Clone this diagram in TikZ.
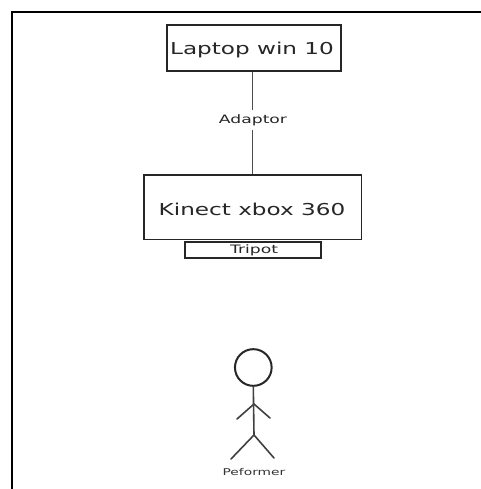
\documentclass[tikz,border=0pt]{standalone}
\usepackage{fontspec}
\setmainfont{DejaVu Sans}
\tikzset{
  x=0.75pt,y=-0.75pt,
  box/.style={draw=black!85,line width=1.35pt,inner sep=0pt,anchor=north west},
  big/.style={inner sep=0pt,text=black!85,font=\fontsize{12.3}{14}\selectfont,xscale=1.41},
  small/.style={inner sep=0pt,text=black!85,font=\fontsize{8.7}{10}\selectfont,xscale=1.48},
  tiny/.style={inner sep=0pt,text=black!80,font=\fontsize{7}{8}\selectfont,xscale=1.48},
  limb/.style={draw=black!75,line width=1.2pt,line cap=round},
  wire/.style={draw=black!70,line width=1.1pt}
}
\begin{document}
\begin{tikzpicture}
\useasboundingbox (0,0) rectangle (481,489);
\draw[black,line width=1.7pt] (12,489) -- (12,12) -- (481,12);
\node[box,minimum width=130.5pt,minimum height=34.5pt] (laptop) at (166,24) {};
\node[box,minimum width=163pt,minimum height=48.5pt] (kinect) at (143.2,174) {};
\node[box,minimum width=102.2pt,minimum height=12pt] (tripot) at (184.2,241) {};
\node[big] at (252,50) {Laptop win 10};
\node[big] at (252,209) {Kinect xbox 360};
\node[small] at (254,250) {Tripot};
\node[inner sep=0pt,minimum height=15pt,minimum width=51pt] (adaptor) at (252.5,120) {};
\node[small] at (253,120) {Adaptor};
\draw[wire] (adaptor.north |- laptop.south) -- (adaptor.north);
\draw[wire] (adaptor.south) -- (adaptor.south |- kinect.north);
\node[draw=black!85,line width=1.5pt,circle,minimum size=27.5pt,inner sep=0pt] (head) at (253.3,367.5) {};
\coordinate (hip) at (254,435);
\coordinate (neck) at (254,404);
\coordinate (lh) at (237,419);
\coordinate (rh) at (270,418);
\coordinate (lf) at (231,459);
\coordinate (rf) at (274,458);
\draw[limb] (head.south) -- (hip);
\draw[limb] (lh) -- (neck) -- (rh);
\draw[limb] (lf) -- (hip) -- (rf);
\node[tiny] (perf) at (254,472) {Peformer};
\end{tikzpicture}
\end{document}
